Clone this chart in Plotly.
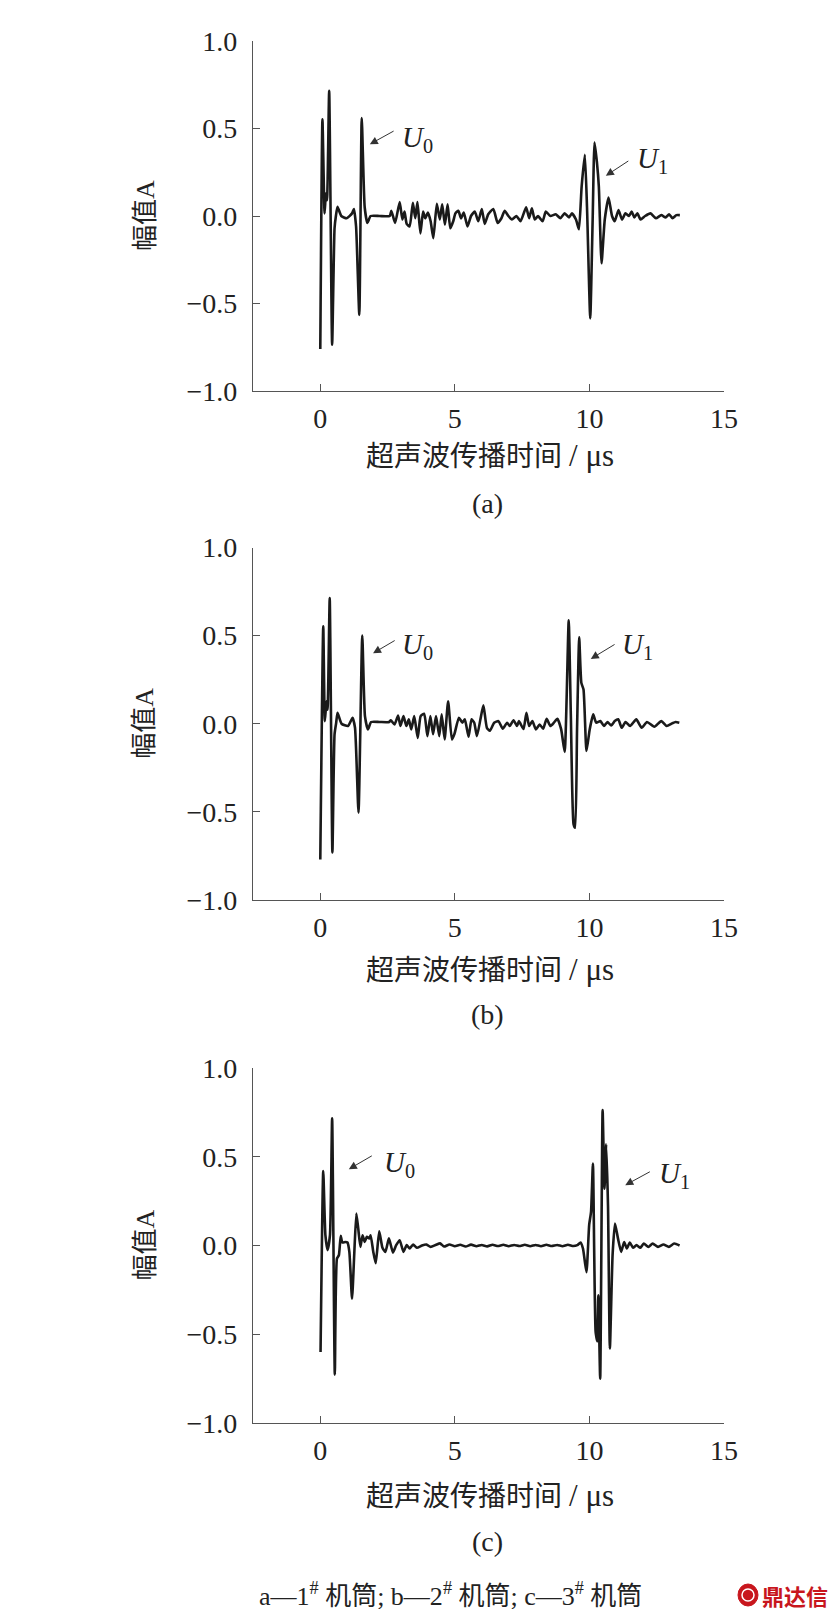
import plotly.graph_objects as go

# ---------------- data ----------------
# Panel (a) : 1# barrel
xa = [0.0, 0.08, 0.16, 0.21, 0.25, 0.33, 0.44, 0.53, 0.58, 0.64, 0.78, 0.98, 1.18, 1.25, 1.33,
      1.45, 1.54, 1.65, 1.75, 1.87, 2.2, 2.58, 2.64, 2.78, 2.95, 3.05, 3.13, 3.21, 3.32, 3.44,
      3.53, 3.61, 3.72, 3.82, 3.90, 4.0, 4.1, 4.2, 4.33, 4.44, 4.53, 4.63, 4.73, 4.83, 4.94,
      5.02, 5.13, 5.23, 5.33, 5.47, 5.60, 5.74, 5.87, 6.0, 6.11, 6.24, 6.43, 6.59, 6.73, 6.85,
      6.99, 7.12, 7.29, 7.44, 7.57, 7.65, 7.76, 7.86, 7.97, 8.09, 8.26, 8.38, 8.55, 8.75, 8.92,
      9.08, 9.24, 9.35, 9.5, 9.61, 9.71, 9.83, 9.91, 10.03, 10.12, 10.19, 10.28, 10.35, 10.45,
      10.57, 10.71, 10.84, 10.94, 11.08, 11.21, 11.34, 11.47, 11.57, 11.67, 11.78, 11.90, 12.07,
      12.27, 12.47, 12.67, 12.83, 12.96, 13.09, 13.23, 13.36]
ya = [-0.76, 0.553, 0.015, 0.13, 0.09, 0.715, -0.735, -0.07, 0.0, 0.053, 0.0, -0.013, 0.015, 0.04, -0.06,
      -0.565, 0.56, 0.05, -0.04, 0.0, 0.0, 0.0, 0.03, -0.04, 0.08, -0.02, 0.025, -0.045, -0.06, 0.076,
      -0.013, 0.08, -0.1, 0.025, -0.013, 0.02, -0.03, -0.127, 0.07, -0.02, 0.067, -0.05, 0.067, -0.07, -0.03,
      0.015, 0.03, -0.013, 0.02, -0.06, 0.0, 0.025, -0.03, 0.04, -0.045, 0.01, 0.04, -0.04, -0.013, 0.03,
      0.0, -0.02, 0.0, -0.03, 0.02, 0.05, -0.013, 0.044, -0.02, 0.0, -0.03, 0.025, 0.0, 0.01, -0.013,
      0.015, -0.008, 0.015, -0.02, -0.076, 0.167, 0.35, 0.05, -0.585, -0.02, 0.42, 0.305, 0.167, -0.27,
      -0.02, 0.105, 0.0, -0.03, 0.034, -0.02, 0.015, 0.0, 0.025, -0.008, 0.015, -0.02, 0.0,
      0.015, -0.013, 0.005, -0.008, 0.01, -0.013, 0.005, 0.005]

# Panel (b) : 2# barrel
xb = [0.0, 0.11, 0.17, 0.23, 0.27, 0.35, 0.45, 0.53, 0.59, 0.64, 0.79, 1.03, 1.20, 1.29, 1.42,
      1.56, 1.66, 1.77, 1.89, 2.2, 2.56, 2.62, 2.76, 2.89, 2.98, 3.09, 3.20, 3.29, 3.38, 3.49,
      3.62, 3.73, 3.86, 3.98, 4.09, 4.19, 4.30, 4.42, 4.51, 4.62, 4.75, 4.89, 4.99, 5.15, 5.28,
      5.37, 5.51, 5.62, 5.72, 5.82, 5.95, 6.06, 6.19, 6.30, 6.46, 6.62, 6.78, 6.94, 7.04, 7.18,
      7.31, 7.38, 7.55, 7.66, 7.76, 7.88, 8.01, 8.15, 8.28, 8.41, 8.55, 8.68, 8.81, 8.95, 9.08,
      9.23, 9.31, 9.41, 9.47, 9.54, 9.62, 9.70, 9.78, 9.89, 10.01, 10.14, 10.25, 10.41, 10.54,
      10.67, 10.81, 10.94, 11.07, 11.2, 11.34, 11.51, 11.74, 11.94, 12.14, 12.41, 12.67, 12.87,
      13.07, 13.2, 13.34]
yb = [-0.77, 0.553, 0.015, 0.128, 0.08, 0.713, -0.73, -0.06, 0.005, 0.062, 0.0, -0.013, 0.034, -0.023, -0.504,
      0.5, 0.043, -0.032, 0.01, 0.01, 0.01, 0.02, -0.004, 0.047, -0.013, 0.043, -0.013, 0.025, -0.032, 0.043,
      -0.08, 0.043, 0.057, -0.07, 0.043, -0.06, 0.043, -0.07, 0.053, -0.089, 0.128, -0.089, -0.055, 0.034, 0.006,
      0.025, -0.074, 0.025, 0.006, -0.07, 0.025, 0.104, -0.023, -0.04, 0.006, 0.015, -0.028, 0.006, -0.013, 0.02,
      -0.013, 0.015, -0.03, 0.062, -0.013, 0.015, -0.032, -0.004, -0.028, 0.028, -0.013, 0.006, 0.028, -0.032, -0.16,
      0.587, 0.043, -0.57, -0.59, -0.032, 0.49, 0.232, 0.194, -0.155, -0.032, 0.053, 0.006, 0.015, -0.013,
      0.01, -0.01, 0.015, 0.025, -0.023, 0.01, -0.013, 0.025, -0.023, 0.01, -0.017, 0.015, -0.013,
      0.002, 0.01, 0.006]

# Panel (c) : 3# barrel
xc = [0.01, 0.11, 0.19, 0.27, 0.36, 0.44, 0.54, 0.62, 0.69, 0.76, 0.82, 0.93, 1.01, 1.08, 1.18,
      1.26, 1.34, 1.41, 1.49, 1.57, 1.65, 1.73, 1.82, 1.87, 1.97, 2.06, 2.19, 2.31, 2.42, 2.55,
      2.70, 2.82, 2.95, 3.09, 3.21, 3.32, 3.45, 3.59, 3.78, 3.95, 4.1, 4.3, 4.45, 4.6, 4.8,
      5.0, 5.2, 5.4, 5.6, 5.8, 6.0, 6.2, 6.4, 6.6, 6.8, 7.0, 7.2, 7.4, 7.6, 7.8,
      8.0, 8.2, 8.4, 8.6, 8.8, 9.0, 9.2, 9.4, 9.55, 9.67, 9.76, 9.89, 9.99, 10.06, 10.13,
      10.23, 10.29, 10.33, 10.40, 10.49, 10.56, 10.62, 10.69, 10.76, 10.86, 10.95, 11.06, 11.18,
      11.29, 11.39, 11.5, 11.62, 11.75, 11.89, 12.02, 12.19, 12.35, 12.55, 12.75, 12.95, 13.15, 13.35]
yc = [-0.60, 0.42, 0.058, -0.026, 0.058, 0.716, -0.727, -0.073, -0.055, 0.055, 0.017, 0.02, 0.017, -0.036, -0.30,
      -0.055, 0.18, 0.096, -0.008, 0.058, 0.02, 0.049, 0.04, 0.058, -0.036, -0.10, 0.08, -0.013, -0.036, 0.04,
      -0.04, 0.002, 0.03, -0.036, 0.002, -0.017, 0.006, -0.013, 0.0, 0.005, -0.008, 0.004, 0.012, -0.006, 0.006,
      -0.004, 0.004, -0.006, 0.005, -0.004, 0.003, -0.005, 0.004, -0.003, 0.004, -0.004, 0.003, -0.003, 0.004, -0.004,
      0.003, -0.004, 0.004, -0.003, 0.003, -0.004, 0.004, -0.003, 0.002, 0.017, -0.017, -0.15, 0.115, 0.19, 0.462,
      -0.487, -0.54, -0.28, -0.75, 0.763, 0.32, 0.57, 0.227, -0.58, -0.055, 0.124, 0.04, -0.036,
      0.02, -0.017, 0.017, -0.013, 0.002, -0.013, 0.011, -0.008, 0.011, -0.008, 0.006, -0.008, 0.011, 0.0]

y_ticks = [-1.0, -0.5, 0.0, 0.5, 1.0]
y_tick_text = ["\u22121.0", "\u22120.5", "0.0", "0.5", "1.0"]
x_ticks = [0, 5, 10, 15]
x_tick_text = ["0", "5", "10", "15"]
panel_labels = ["(a)", "(b)", "(c)"]
x_title = "超声波传播时间 <span style='font-size:31px'>/ μs</span>"
y_title = "幅值A"
caption = "a—1<sup>#</sup> 机筒; b—2<sup>#</sup> 机筒; c—3<sup>#</sup> 机筒"
watermark = "鼎达信"

# arrow annotations: (text x, text y, tail x, tail y, head x, head y)
u0_pos = [(2.95, 0.44, 2.78, 0.49, 1.84, 0.41),
          (2.95, 0.44, 2.82, 0.477, 1.96, 0.40),
          (2.30, 0.46, 1.97, 0.51, 1.06, 0.43)]
u1_pos = [(11.7, 0.32, 11.5, 0.32, 10.61, 0.23),
          (11.15, 0.44, 10.99, 0.455, 10.05, 0.368),
          (12.5, 0.40, 12.3, 0.42, 11.33, 0.34)]

# ---------------- figure ----------------
PAGE_W, PAGE_H = 840, 1623
OFF = 8                      # browser body margin
W, H = PAGE_W - OFF, PAGE_H - OFF
LAT = "Liberation Serif, Times New Roman, serif"
CJK = "Liberation Serif, Noto Sans CJK SC, serif"
LINE = "#1a1a1a"
AX = "#555555"
TXT = "#222222"
RED = "#c8161d"


def px_x(p):
    return (p - OFF) / W


def px_y(p):
    return 1 - (p - OFF) / H


x_dom = [px_x(253.0), px_x(724.0)]
# (top, bottom) page-pixel rows of each panel, and rows of title / panel label
panels_px = [(41.0, 391.0), (547.5, 900.0), (1068.0, 1423.0)]
title_rows = [455, 969, 1495]
label_rows = [504, 1014, 1541]

fig = go.Figure()
series = [(xa, ya), (xb, yb), (xc, yc)]
layout = {}
annotations = []
for i, ((xs, ys), (top, bot)) in enumerate(zip(series, panels_px)):
    k = "" if i == 0 else str(i + 1)
    fig.add_trace(go.Scatter(x=xs, y=ys, mode="lines", xaxis="x" + k, yaxis="y" + k,
                             line=dict(color=LINE, width=2.6, shape="spline", smoothing=0.5),
                             hoverinfo="skip", showlegend=False))
    ydom = [px_y(bot), px_y(top)]
    layout["xaxis" + k] = dict(domain=x_dom, range=[-2.5, 15], anchor="y" + k, automargin=False,
                               tickvals=x_ticks, ticktext=x_tick_text, ticks="inside", ticklen=7,
                               tickcolor=AX, tickwidth=1.2, showline=True, linecolor=AX, linewidth=1.2,
                               showgrid=False, zeroline=False, ticklabelstandoff=2,
                               tickfont=dict(family=LAT, size=28, color=TXT))
    layout["yaxis" + k] = dict(domain=ydom, range=[-1, 1], anchor="x" + k, automargin=False,
                               tickvals=y_ticks, ticktext=y_tick_text, ticks="inside", ticklen=7,
                               tickcolor=AX, tickwidth=1.2, showline=True, linecolor=AX, linewidth=1.2,
                               showgrid=False, zeroline=False, ticklabelstandoff=9,
                               tickfont=dict(family=LAT, size=28, color=TXT))
    xr, yr = "x" + k, "y" + k
    for (tx, ty, ax_, ay_, hx, hy), sub in ((u0_pos[i], "0"), (u1_pos[i], "1")):
        annotations.append(dict(x=hx, y=hy, ax=ax_, ay=ay_, xref=xr, yref=yr, axref=xr, ayref=yr,
                                showarrow=True, arrowhead=2, arrowsize=1.6, arrowwidth=1,
                                arrowcolor="#333", text=""))
        annotations.append(dict(x=tx, y=ty, xref=xr, yref=yr, showarrow=False, xanchor="left",
                                yanchor="middle",
                                text="<i>U</i><sub>" + sub + "</sub>",
                                font=dict(family=LAT, size=29, color=TXT)))
    annotations.append(dict(x=px_x(145), y=px_y((top + bot) / 2), xref="paper", yref="paper",
                            xanchor="center", yanchor="middle",
                            text=y_title, textangle=-90, showarrow=False,
                            font=dict(family=CJK, size=26, color=TXT)))
    annotations.append(dict(x=px_x(490), y=px_y(title_rows[i]), xref="paper", yref="paper",
                            xanchor="center", yanchor="middle",
                            text=x_title, showarrow=False,
                            font=dict(family=CJK, size=28, color=TXT)))
    annotations.append(dict(x=px_x(488), y=px_y(label_rows[i]), xref="paper", yref="paper",
                            xanchor="center", yanchor="middle",
                            text=panel_labels[i], showarrow=False,
                            font=dict(family=LAT, size=28, color=TXT)))

annotations.append(dict(x=px_x(450), y=px_y(1594), xref="paper", yref="paper", text=caption,
                        xanchor="center", yanchor="middle",
                        showarrow=False, font=dict(family=CJK, size=26, color=TXT)))
annotations.append(dict(x=px_x(830), y=px_y(1595), xref="paper", yref="paper", xanchor="right",
                        yanchor="middle", text="<b>" + watermark + "</b>", showarrow=False,
                        font=dict(family="Noto Sans CJK SC", size=22, color=RED)))

# small round logo in front of the watermark text
shapes = [dict(type="circle", xref="paper", yref="paper",
               x0=px_x(738), x1=px_x(758), y0=px_y(1606), y1=px_y(1584),
               fillcolor=RED, line=dict(color=RED, width=1)),
          dict(type="circle", xref="paper", yref="paper",
               x0=px_x(742), x1=px_x(754), y0=px_y(1601), y1=px_y(1589),
               fillcolor="rgba(0,0,0,0)", line=dict(color="white", width=1.5))]

fig.update_layout(width=W, height=H,
                  margin=dict(l=0, r=0, t=0, b=0, pad=0, autoexpand=False),
                  paper_bgcolor="white", plot_bgcolor="white",
                  annotations=annotations, shapes=shapes, **layout)

fig.write_html("out.html")
